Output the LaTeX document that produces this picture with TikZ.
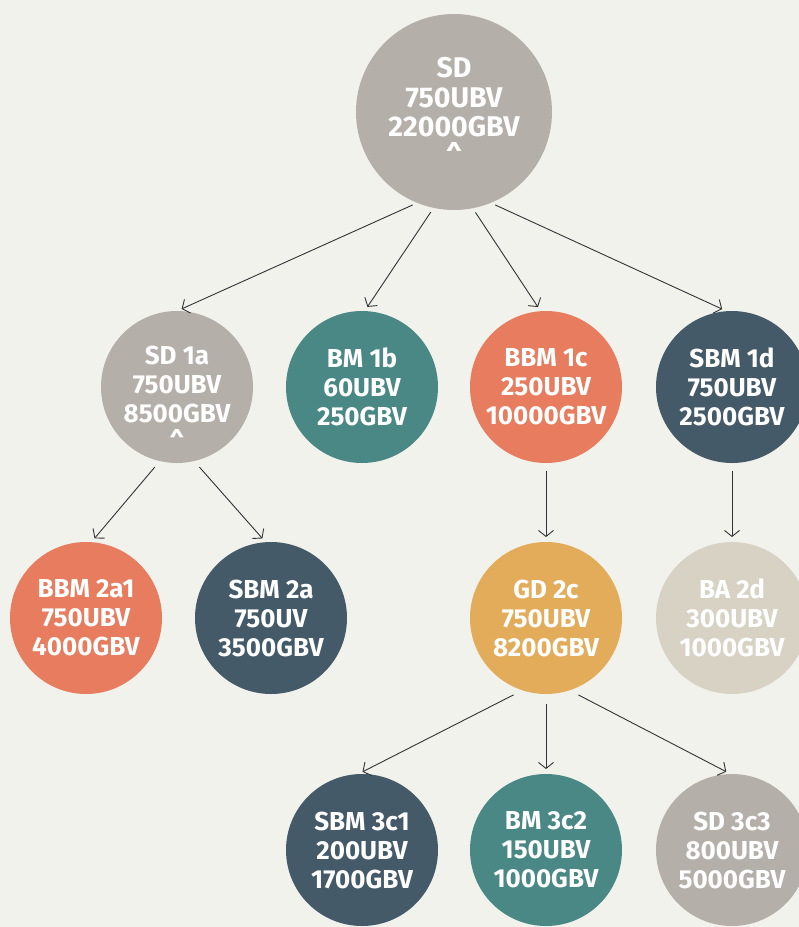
\documentclass[tikz,border=0pt]{standalone}
\usepackage{fontspec}
\setmainfont{Fira Sans}
\usetikzlibrary{arrows.meta}
\definecolor{bgc}{RGB}{242,242,236}
\definecolor{taupe}{RGB}{181,175,170}
\definecolor{teal}{RGB}{74,136,133}
\definecolor{coral}{RGB}{231,124,94}
\definecolor{slate}{RGB}{68,90,105}
\definecolor{gold}{RGB}{227,172,90}
\definecolor{beige}{RGB}{216,210,197}
\definecolor{linec}{RGB}{51,51,51}
\tikzset{
  balltext/.style={text=white, align=center, inner sep=0pt, font=\fontsize{26}{29}\selectfont\bfseries},
  ball/.style={circle, fill=#1, minimum size=152pt, inner sep=0pt, outer sep=0pt, balltext},
  bigball/.style={ball=#1, minimum size=196pt, font=\fontsize{28.5}{29.5}\selectfont\bfseries},
  link/.style={draw=linec, line width=0.9pt, -{Straight Barb[length=6pt,width=15pt,line width=0.9pt]},
    shorten <=5pt, shorten >=5pt}
}
\begin{document}
\begin{tikzpicture}[x=1pt,y=-1pt]
\useasboundingbox (0,0) rectangle (799,927);
\fill[bgc] (0,0) rectangle (799,927);
\clip (0,0) rectangle (799,927);
\node[bigball=taupe] (sd) at (454,112) {SD\\750UBV\\22000GBV\\\^{}};
\node[ball=taupe] (sd1a) at (177,387) {};
\node[balltext] (sd1atext) at ([yshift=-12pt]sd1a.center) {SD 1a\\750UBV\\8500GBV\\\^{}};
\node[ball=teal] (bm1b) at (362,387) {BM 1b\\60UBV\\250GBV};
\node[ball=coral] (bbm1c) at (546,387) {BBM 1c\\250UBV\\10000GBV};
\node[ball=slate] (sbm1d) at (732,387) {SBM 1d\\750UBV\\2500GBV};
\node[ball=coral] (bbm2a1) at (86,618) {BBM 2a1\\750UBV\\4000GBV};
\node[ball=slate] (sbm2a) at (271,618) {SBM 2a\\750UV\\3500GBV};
\node[ball=gold] (gd2c) at (546,618) {GD 2c\\750UBV\\8200GBV};
\node[ball=beige] (ba2d) at (732,618) {BA 2d\\300UBV\\1000GBV};
\node[ball=slate] (sbm3c1) at (362,850) {SBM 3c1\\200UBV\\1700GBV};
\node[ball=teal] (bm3c2) at (546,850) {BM 3c2\\150UBV\\1000GBV};
\node[ball=taupe] (sd3c3) at (732,850) {SD 3c3\\800UBV\\5000GBV};

\draw[link] (sd.248) -- (sd1a.90);
\draw[link] (sd.258) -- (bm1b.88);
\draw[link] (sd.281) -- (bbm1c.94);
\draw[link] (sd.292) -- (sbm1d.94);
\draw[link, shorten <=8pt] (sd1a.257) -- (bbm2a1.86);
\draw[link, shorten <=8pt] (sd1a.283) -- (sbm2a.94);
\draw[link, shorten <=8pt] (bbm1c.south) -- (gd2c.north);
\draw[link, shorten <=8pt] (sbm1d.south) -- (ba2d.north);
\draw[link, shorten <=10pt] (gd2c.252) -- (sbm3c1.93);
\draw[link, shorten <=10pt] (gd2c.south) -- (bm3c2.north);
\draw[link, shorten <=10pt] (gd2c.288) -- (sd3c3.91);
\end{tikzpicture}
\end{document}
